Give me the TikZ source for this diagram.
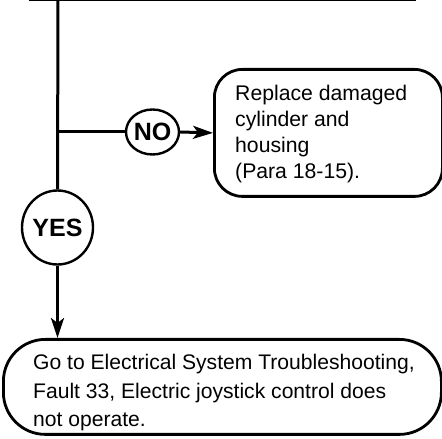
\documentclass[tikz,border=0pt]{standalone}
\usepackage{fontspec}
\setmainfont{Liberation Sans}
\usetikzlibrary{arrows.meta,shapes.geometric}
\begin{document}
\begin{tikzpicture}[x=1pt,y=1pt,
  flow/.style={line width=3pt},
  arrowline/.style={flow,-{Stealth[length=20pt,width=13pt,inset=5pt]}},
  answer/.style={ellipse,draw,line width=2.4pt,inner sep=0pt,font=\fontsize{25}{25}\selectfont\bfseries},
  actionbox/.style={draw,line width=2.8pt,rounded corners=28pt},
  boxtext/.style={anchor=north west,inner sep=0pt,align=left}]
\useasboundingbox (0,0) rectangle (442,439);

% incoming line from the step above
\coordinate (topL) at (29,439.6);
\coordinate (topR) at (416,439.6);
\draw[flow] (topL) -- (topR);

% answers
\node[answer,minimum width=71pt,minimum height=74pt] (yes) at (57.5,211.5) {YES};
\node[answer,minimum width=49pt,minimum height=45pt] (no) at (152.5,307) {NO};

% action boxes
\node[actionbox,minimum width=228pt,minimum height=127pt,anchor=north west] (fix) at (213,371) {};
\node[actionbox,rounded corners=42pt,minimum width=438pt,minimum height=95pt,anchor=north west] (elec) at (2,101) {};

\node[boxtext,font=\fontsize{21.2}{26}\selectfont] (fixtext) at (235,354)
  {Replace damaged\\cylinder and\\housing\\(Para 18-15).};
\node[boxtext,font=\fontsize{21.1}{28.3}\selectfont] (electext) at (33,84.5)
  {Go to Electrical System Troubleshooting,\\Fault 33, Electric joystick control does\\not operate.};

% connectors
\coordinate (trunk) at (58,439.6);
\coordinate (branch) at (58,307);
\draw[flow] (trunk) -- (yes.north);
\draw[flow] (branch) -- (no.west);
\draw[arrowline] (no.east) -- (fix.west);
\draw[arrowline] (yes.south) -- (yes.south |- elec.north);
\end{tikzpicture}
\end{document}
